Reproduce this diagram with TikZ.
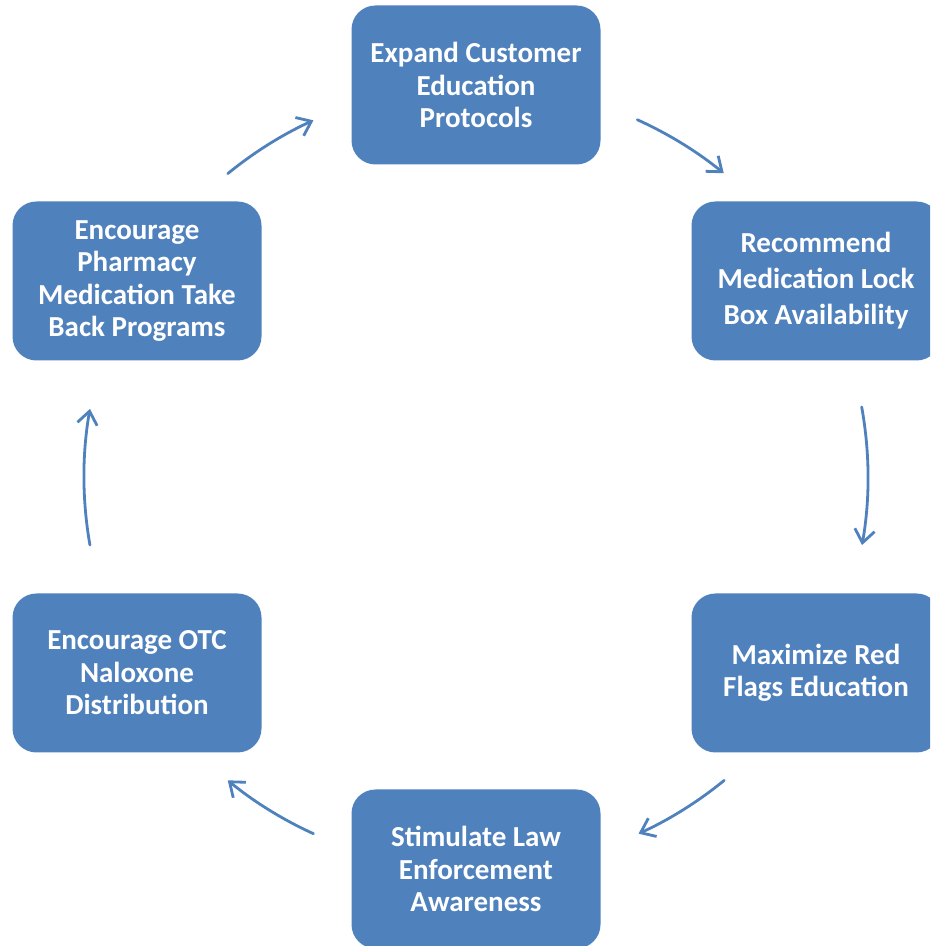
\documentclass[tikz,border=0pt]{standalone}
\usepackage{fontspec}
\setmainfont{Carlito}
\usetikzlibrary{arrows.meta}
\definecolor{boxblue}{HTML}{4F81BD}
\begin{document}
\begin{tikzpicture}[x=1pt,y=1pt,
  box/.style={rectangle, rounded corners=24pt, fill=boxblue, minimum width=249pt, minimum height=159pt,
    text=white, font=\bfseries\fontsize{29}{32.5}\selectfont, align=center, inner sep=0pt},
  cyc/.style={draw=boxblue, line width=2.8pt, line cap=round, -{Straight Barb[length=13pt,width=20pt,line width=2.8pt]}}]
\useasboundingbox (0,0) rectangle (930,946);
\clip (0,0) rectangle (930,946);
\coordinate (c) at (476,469);
\node[box] (top) at (476,861) {Expand Customer\\Education\\Protocols};
\node[box, font=\bfseries\fontsize{29}{36}\selectfont] (rt) at (816,665) {Recommend\\Medication Lock\\Box Availability};
\node[box] (rb) at (816,273) {Maximize Red\\Flags Education};
\node[box] (bot) at (476,77) {Stimulate Law\\Enforcement\\Awareness};
\node[box] (lb) at (137,273) {Encourage OTC\\Naloxone\\Distribution};
\node[box] (lt) at (137,665) {Encourage\\Pharmacy\\Medication Take\\Back Programs};
\coordinate (a1) at ([shift={(65.7:392)}]c);
\coordinate (a2) at ([shift={(10.3:392)}]c);
\coordinate (a3) at ([shift={(-50.7:392)}]c);
\coordinate (a4) at ([shift={(-114.5:392)}]c);
\coordinate (a5) at ([shift={(190:392)}]c);
\coordinate (a6) at ([shift={(129.3:392)}]c);
\draw[cyc] (a1) arc[start angle=65.7, end angle=50.8, radius=392];
\draw[cyc] (a2) arc[start angle=10.3, end angle=-10, radius=392];
\draw[cyc] (a3) arc[start angle=-50.7, end angle=-65.5, radius=392];
\draw[cyc] (a4) arc[start angle=-114.5, end angle=-129.3, radius=392];
\draw[cyc] (a5) arc[start angle=190, end angle=170, radius=392];
\draw[cyc] (a6) arc[start angle=129.3, end angle=114.5, radius=392];
\end{tikzpicture}
\end{document}
